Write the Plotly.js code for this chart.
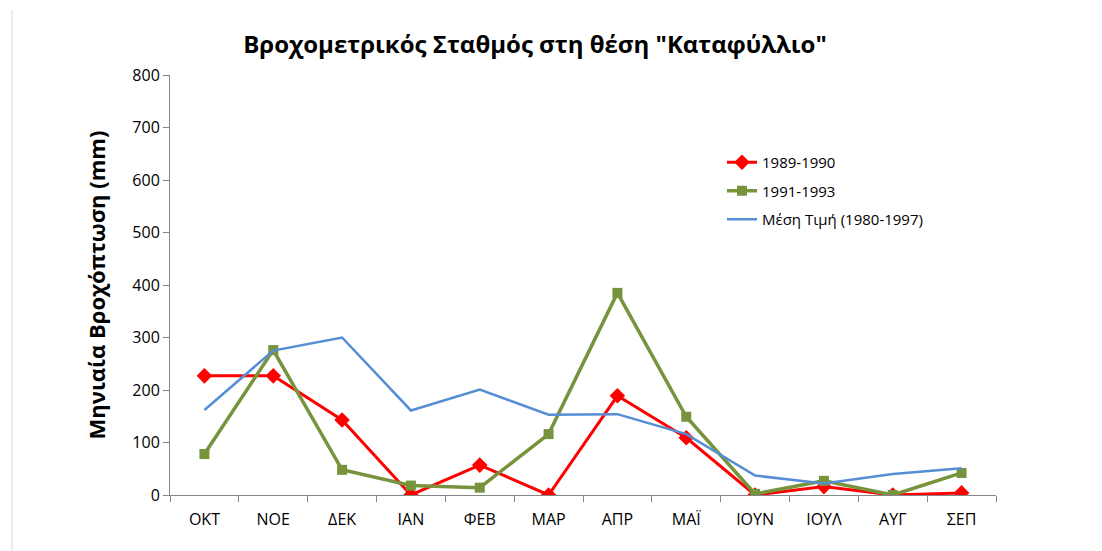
<!DOCTYPE html>
<html>
<head>
<meta charset="utf-8">
<script src="https://cdn.plot.ly/plotly-3.0.1.min.js"></script>
<style>html,body{margin:0;padding:0;background:#fff;}#chart{width:1102px;height:551px;}</style>
</head>
<body>
<div id="chart"></div>
<script>
var months = ["ΟΚΤ","ΝΟΕ","ΔΕΚ","ΙΑΝ","ΦΕΒ","ΜΑΡ","ΑΠΡ","ΜΑΪ","ΙΟΥΝ","ΙΟΥΛ","ΑΥΓ","ΣΕΠ"];
var rain1989_1990 = [227, 227, 143, 0, 57, 0, 189, 109, 0, 16, 0, 4];
var rain1991_1993 = [78, 276, 48, 18, 14, 116, 385, 149, 2, 27, 0, 42];
var rainMean1980_1997 = [162, 275, 300, 161, 201, 153, 154, 116, 37, 22, 40, 51];
var seriesNames = ["1989-1990", "1991-1993", "Μέση Τιμή (1980-1997)"];
var yTicks = [0, 100, 200, 300, 400, 500, 600, 700, 800];

var baseFont = "Open Sans, Noto Sans, sans-serif";

var traces = [
  {x: months, y: rain1989_1990, name: seriesNames[0], legendgroup: "a", type: "scatter", mode: "lines+markers",
   line: {color: "#FF0000", width: 3}, marker: {symbol: "diamond", size: 12, color: "#FF0000"}},
  {x: months, y: rain1991_1993, name: seriesNames[1], legendgroup: "b", type: "scatter", mode: "lines+markers",
   line: {color: "#77933C", width: 3.5}, marker: {symbol: "square", size: 10, color: "#77933C"}},
  {x: months, y: rainMean1980_1997, name: seriesNames[2], legendgroup: "c", type: "scatter", mode: "lines",
   line: {color: "#558ED5", width: 2.5}}
];

var layout = {
  width: 1102, height: 551,
  margin: {l: 170, r: 106, t: 75, b: 56},
  paper_bgcolor: "#fff", plot_bgcolor: "#fff",
  font: {family: baseFont, color: "#000", size: 16},
  title: {text: "<b>Βροχομετρικός Σταθμός στη θέση \"Καταφύλλιο\"</b>",
          font: {family: baseFont, size: 24, color: "#000"},
          x: 535/1102, xanchor: "center", y: 1 - 45/551, yanchor: "middle"},
  xaxis: {type: "category", range: [-0.5, 11.5], showline: true, linecolor: "#868686", linewidth: 1,
          ticks: "outside", tickson: "boundaries", ticklen: 6, tickcolor: "#868686",
          ticklabelstandoff: 10,
          showgrid: false, zeroline: false, tickfont: {size: 16, color: "#000"}, fixedrange: true},
  yaxis: {range: [0, 800], tickvals: yTicks, ticktext: yTicks.map(String), showline: true,
          linecolor: "#868686", linewidth: 1, ticks: "outside", ticklen: 6, tickcolor: "#868686",
          showgrid: false, zeroline: false, tickfont: {size: 16, color: "#000"},
          title: {text: "<b>Μηνιαία Βροχόπτωση (mm)</b>", font: {family: baseFont, size: 22, color: "#000"}, standoff: 20}},
  legend: {x: (722-170)/826, y: (495-146)/420, xanchor: "left", yanchor: "top",
           traceorder: "grouped", tracegroupgap: 6,
           font: {family: baseFont, size: 15, color: "#000"}, bgcolor: "rgba(0,0,0,0)",
           itemwidth: 30},
  showlegend: true,
  shapes: [{type: "line", xref: "paper", yref: "paper", x0: (12-170)/826, x1: (12-170)/826,
            y0: -56/420, y1: (495-10)/420, line: {color: "#D9D9D9", width: 1}}]
};

Plotly.newPlot("chart", traces, layout, {displayModeBar: false, staticPlot: true});
</script>
</body>
</html>
